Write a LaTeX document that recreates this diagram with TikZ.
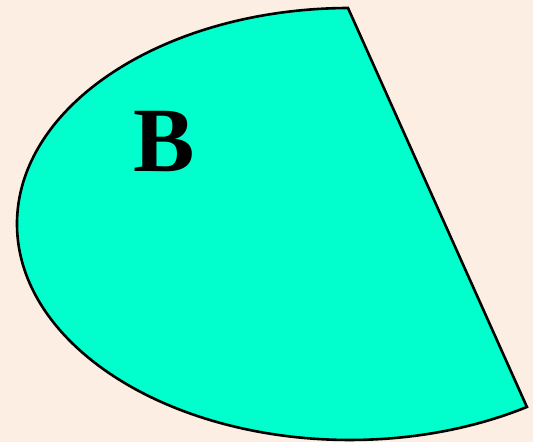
\documentclass[tikz,border=0pt]{standalone}
\usepackage{fontspec}
\setmainfont{Liberation Serif}
\definecolor{bgpeach}{HTML}{FCEEE3}
\definecolor{aqua}{HTML}{00FFCC}
\begin{document}
\begin{tikzpicture}[x=1pt,y=1pt,
  segment/.style={draw=black,fill=aqua,line width=2.6pt,line join=miter},
  lbl/.style={font=\fontsize{92}{92}\selectfont\bfseries,inner sep=0pt}]
\fill[bgpeach] (0,0) rectangle (533,442);
\useasboundingbox (0,0) rectangle (533,442);
\coordinate (top) at (348,434);
\draw[segment] (top) arc[start angle=90.34, end angle=302.1, x radius=333, y radius=216] -- cycle;
\node[lbl] (B) at (164,300) {B};
\end{tikzpicture}
\end{document}
